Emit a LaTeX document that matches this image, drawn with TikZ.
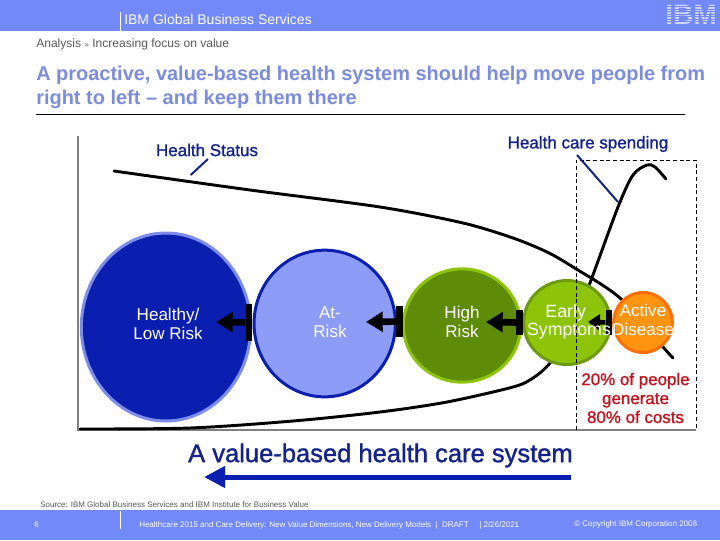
\documentclass[tikz,border=0pt]{standalone}
\usepackage{fontspec}
\setmainfont{Liberation Sans}
\newfontfamily\semifont[FakeBold=1.3]{Liberation Sans}
\usetikzlibrary{shapes.geometric, positioning, arrows.meta}

\definecolor{bandblue}{HTML}{7389F9}
\definecolor{titleblue}{HTML}{7B8CDB}
\definecolor{navyink}{HTML}{14238C}
\definecolor{deepblue}{HTML}{0A1FB0}
\definecolor{paleblue}{HTML}{8C9CF7}
\definecolor{rimblue}{HTML}{7D8DEB}
\definecolor{darkgreen}{HTML}{5E8C08}
\definecolor{leafgreen}{HTML}{8DC408}
\definecolor{rimgreen}{HTML}{6E9A10}
\definecolor{orangefill}{HTML}{FF9410}
\definecolor{orangerim}{HTML}{FF6E00}
\definecolor{costred}{HTML}{C01420}
\definecolor{axisgray}{HTML}{808080}

\tikzset{
  ball/.style={ellipse, draw, line width=2.25pt, inner sep=0pt},
  balltext/.style={text=white, align=center, inner sep=0pt, font=\fontsize{12.8}{14.3}\selectfont},
  stopbar/.style={fill=black, inner sep=0pt, minimum width=5pt},
  backarrow/.style={line width=5pt, -{Triangle[length=12.5pt,width=14.5pt]}},
  curve/.style={line width=2.2pt, line cap=round},
  leader/.style={line width=1.5pt, navyink},
  navytext/.style={text=navyink, inner sep=0pt, font=\semifont\fontsize{12.75}{14}\selectfont},
  bandtext/.style={text=white, inner sep=0pt, anchor=west, font=\fontsize{6}{7}\selectfont}
}

\begin{document}
\begin{tikzpicture}[x=0.75pt, y=-0.75pt]
    \useasboundingbox (0,0) rectangle (720,540);

    % Header and footer bands
    \fill[bandblue] (0,0) rectangle (720,31);
    \fill[bandblue] (0,510) rectangle (720,540);
    \draw[white, line width=0.7pt] (120,12) -- (120,31);
    \draw[white, line width=0.7pt] (120,511) -- (120,529);

    \node[anchor=west, inner sep=0pt, text=white, font=\fontsize{10.5}{12}\selectfont] (unit) at (124,19) {IBM Global Business Services};
    \node[inner sep=0pt, text=white!65!bandblue, font=\fontsize{21}{21}\bfseries\selectfont] (logo) at (691,15) {IBM};
    % stripes across the logo
    \foreach \y in {6.5,9,...,24}
        \draw[bandblue, line width=0.6pt] (660,\y) -- (720,\y);

    \node[anchor=west, inner sep=0pt, text=black!65, font=\fontsize{9.05}{10}\selectfont] (crumb) at (36,44.5) {Analysis \raisebox{0.3pt}{\fontsize{6}{7}\selectfont»} Increasing focus on value};
    \node[anchor=north west, inner sep=0pt, align=left, text=titleblue, font=\fontsize{14.97}{18}\bfseries\selectfont] (title) at (36,65.5)
        {A proactive, value-based health system should help move people from\\right to left – and keep them there};
    \draw[black, line width=0.75pt] (36,114) -- (685,114);

    % Axes
    \coordinate (origin) at (78,430);
    \coordinate (ytop) at (78,136);
    \coordinate (xend) at (696,430);
    \draw[axisgray, line width=2pt] (ytop) -- (origin) -- (xend);

    % Curves
    \draw[curve] plot[smooth, tension=0.5] coordinates {(114,171) (250,190) (380,207) (463,223) (513,238) (547,252) (573,267) (620,298) (663,347) (673,358)};
    \draw[curve] plot[smooth, tension=0.5] coordinates {(80,429) (190,428) (293,421) (380,412) (447,402) (513,387) (533,378) (550,363) (572,330) (590,283) (618,207) (633,175) (647,165) (655,167) (666,179)};

    % Nodes
    \node[ball, fill=deepblue, draw=rimblue, minimum width=127pt, minimum height=141pt] (healthy) at (166,327) {};
    \node[ball, fill=paleblue, draw=deepblue, minimum width=106pt, minimum height=110pt] (atrisk) at (324.7,323.5) {};
    \node[ball, fill=darkgreen, draw=leafgreen, minimum width=88pt, minimum height=85pt] (highrisk) at (462,325.5) {};
    \node[ball, fill=leafgreen, draw=rimgreen, minimum width=65pt, minimum height=63pt] (early) at (567,322.5) {};
    \node[ball, fill=orangefill, draw=orangerim, minimum width=44pt, minimum height=45pt] (active) at (643,322.5) {};

    % Stop bars and arrows
    \node[stopbar, minimum height=27.5pt] (barA) at (249,322.5) {};
    \node[stopbar, minimum height=23pt] (barB) at (399.5,321.5) {};
    \node[stopbar, minimum height=18.5pt] (barC) at (519.5,322.5) {};
    \node[stopbar, minimum height=18.5pt] (barD) at (609,322.5) {};
    \coordinate (tipA) at (216,322);
    \coordinate (tipB) at (366,322);
    \coordinate (tipC) at (486,322);
    \coordinate (tipD) at (588,322);
    \draw[backarrow] (barA) -- (tipA);
    \draw[backarrow] (barB) -- (tipB);
    \draw[backarrow] (barC) -- (tipC);
    \draw[line width=3.5pt, -{Triangle[length=9pt,width=12pt]}] (barD) -- (tipD);

    % Labels of the balls
    \node[balltext] (healthyText) at (168,324) {Healthy/\\Low Risk};
    \node[balltext] (atriskText) at (330,322) {At-\\Risk};
    \node[balltext] (highText) at (462,322) {High\\Risk};
    \node[balltext, font=\fontsize{13.3}{13.5}\selectfont] (earlyText) at (569,322) {Early\hspace*{5pt}\\Symptoms};
    \node[balltext] (activeText) at (643,320) {Active\\Disease};

    % Dashed frame
    \draw[dashed, line width=0.6pt, dash pattern=on 3pt off 2pt] (576.3,430) |- (696,160) -- (696,430);

    % Curve names
    \node[navytext] (statusText) at (207,150) {Health Status};
    \node[navytext] (spendText) at (588,144) {Health care spending};
    \coordinate (statusFoot) at (190.7,175);
    \coordinate (spendFoot) at (618,202);
    \draw[leader] (208,159) -- (statusFoot);
    \draw[leader] (577,155) -- (spendFoot);

    \node[inner sep=0pt, align=center, text=costred, font=\semifont\fontsize{12.7}{14.2}\selectfont] (share) at (635.5,398) {20\% of people\\generate\\80\% of costs};

    % System arrow
    \node[inner sep=0pt, text=navyink, font=\semifont\fontsize{19.15}{21}\selectfont] (system) at (380.5,455.5) {A value-based health care system};
    \coordinate (sysStart) at (571,477);
    \coordinate (sysEnd) at (204,477);
    \draw[deepblue, line width=3.75pt, -{Triangle[length=15.75pt,width=15.5pt]}] (sysStart) -- (sysEnd);

    % Source and footer
    \node[anchor=west, inner sep=0pt, text=black!65, font=\fontsize{6}{7}\selectfont] (source) at (40,504.5) {Source: IBM Global Business Services and IBM Institute for Business Value};
    \node[bandtext] (page) at (34,525) {6};
    \node[bandtext] (deck) at (139,525) {Healthcare 2015 and Care Delivery: New Value Dimensions, New Delivery Models \ | \ DRAFT};
    \node[bandtext] (date) at (479,525) {| 2/26/2021};
    \node[bandtext] (copy) at (574,524) {© Copyright IBM Corporation 2008};
\end{tikzpicture}
\end{document}
